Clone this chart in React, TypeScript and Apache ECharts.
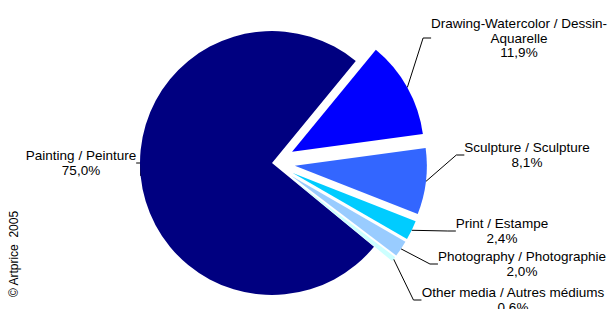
import React, { useEffect, useRef } from 'react';
import * as echarts from 'echarts';

const categories = [
  'Painting / Peinture',
  'Drawing-Watercolor / Dessin-\nAquarelle',
  'Sculpture / Sculpture',
  'Print / Estampe',
  'Photography / Photographie',
  'Other media / Autres médiums',
];
const shares = [75.0, 11.9, 8.1, 2.4, 2.0, 0.6];
const colors = ['#000080', '#0000FF', '#3366FF', '#00CCFF', '#99CCFF', '#CCFFFF'];
const exploded = [false, true, true, true, true, true];
const labelSpots = [
  [81, 163],
  [519, 38],
  [527, 155],
  [502, 231],
  [522, 264],
  [513, 300],
];
const copyright = '© Artprice  2005';

const CX = 272;
const CY = 163;
const R = 132;
const START = 320.6;
const OFFSET = 23;

export default function App() {
  const ref = useRef<HTMLDivElement>(null);
  useEffect(() => {
    if (!ref.current) return;
    const chart = echarts.init(ref.current, null, { renderer: 'svg' });
    const font = '"Liberation Sans", Arial, Helvetica, sans-serif';
    const total = shares.reduce((a, b) => a + b, 0);
    let cum = 0;
    const series = categories.map((_, k) => {
      const mid = START - (360 * (cum + shares[k] / 2)) / total;
      cum += shares[k];
      const rad = (mid * Math.PI) / 180;
      const off = exploded[k] ? OFFSET : 0;
      return {
        type: 'pie',
        center: [CX + off * Math.cos(rad), CY - off * Math.sin(rad)],
        radius: R,
        startAngle: START,
        clockwise: true,
        avoidLabelOverlap: false,
        minAngle: 0,
        silent: true,
        emphasis: { disabled: true },
        itemStyle: { borderWidth: 0 },
        label: {
          show: true,
          position: 'outside',
          fontFamily: font,
          fontSize: 13.5,
          lineHeight: 14.5,
          color: '#000',
          formatter: (p: any) => `${p.name}\n${p.value.toFixed(1).replace('.', ',')}%`,
        },
        labelLine: {
          show: true,
          length: 15,
          length2: 8,
          lineStyle: { color: '#000', width: 1 },
        },
        labelLayout: (params: any) => {
          const s = labelSpots[params.dataIndex];
          return { x: s[0], y: s[1], align: 'center', verticalAlign: 'middle' };
        },
        data: categories.map((name, i) => ({
          name,
          value: shares[i],
          itemStyle: { color: i === k ? colors[i] : 'rgba(0,0,0,0)' },
          label: { show: i === k },
          labelLine: { show: i === k },
        })),
      };
    });
    chart.setOption({
      animation: false,
      backgroundColor: '#ffffff',
      graphic: [
        {
          type: 'text',
          x: 14,
          y: 254,
          rotation: Math.PI / 2,
          style: {
            text: copyright,
            fontFamily: font,
            fontSize: 12,
            fill: '#000',
            align: 'center',
            verticalAlign: 'middle',
          },
        },
      ],
      series,
    });
    return () => chart.dispose();
  }, []);
  return (
    <div
      ref={ref}
      style={{ position: 'absolute', left: 0, top: 0, width: 609, height: 309 }}
    />
  );
}
